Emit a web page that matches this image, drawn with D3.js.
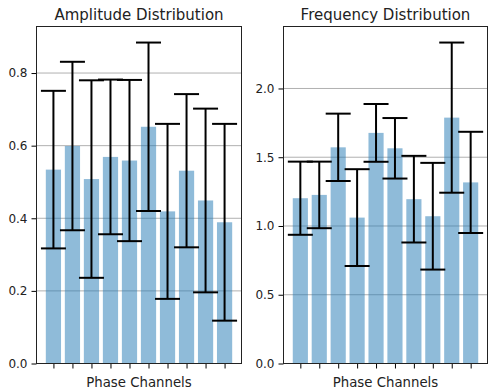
<!DOCTYPE html>
<html>
<head>
<meta charset="utf-8">
<script src="https://cdn.jsdelivr.net/npm/d3@7"></script>
<style>
  body { margin: 0; background: #fff; }
  svg { display: block; font-family: 'DejaVu Sans', sans-serif; }
</style>
</head>
<body>
<svg id="chart" width="488" height="391"></svg>
<script>
const channels = d3.range(10)

const ampMean = [0.534, 0.599, 0.508, 0.569, 0.559, 0.652, 0.419, 0.531, 0.449, 0.389]
const ampErr = [0.217, 0.232, 0.272, 0.213, 0.222, 0.232, 0.241, 0.211, 0.253, 0.271]
const ampTicks = [0.0, 0.2, 0.4, 0.6, 0.8]

const freqMean = [1.202, 1.226, 1.572, 1.061, 1.677, 1.565, 1.195, 1.071, 1.788, 1.317]
const freqErr = [0.266, 0.242, 0.245, 0.352, 0.21, 0.22, 0.315, 0.388, 0.546, 0.368]
const freqTicks = [0.0, 0.5, 1.0, 1.5, 2.0]

const svg = d3.select('#chart')
const barColor = '#1f77b4'

// matplotlib-ish: bars 0.8 wide, 5% x margin, y from 0 to max + 5%
const drawPanel = (box, title, means, errs, ticks) => {
  const { left, right, top, bottom } = box
  const g = svg.append('g')
  const yMax = d3.max(means, (d, i) => d + errs[i]) * 1.05
  const x = d3.scaleLinear().domain([-0.89, 9.89]).range([left, right])
  const y = d3.scaleLinear().domain([0, yMax]).range([bottom, top])
  const bw = x(0.8) - x(0)

  // grid
  g.append('g')
    .selectAll('line')
    .data(ticks)
    .join('line')
    .attr('x1', left)
    .attr('x2', right)
    .attr('y1', (d) => y(d))
    .attr('y2', (d) => y(d))
    .attr('stroke', '#b0b0b0')
    .attr('stroke-width', 1)

  g.append('g')
    .selectAll('rect')
    .data(means)
    .join('rect')
    .attr('x', (d, i) => x(channels[i]) - bw / 2)
    .attr('width', bw)
    .attr('y', (d) => y(d))
    .attr('height', (d) => y(0) - y(d))
    .attr('fill', barColor)
    .attr('fill-opacity', 0.5)

  const err = g.append('g').attr('stroke', '#000').attr('stroke-width', 2)
  means.forEach((m, i) => {
    const cx = x(channels[i])
    err.append('line').attr('x1', cx).attr('x2', cx).attr('y1', y(m - errs[i])).attr('y2', y(m + errs[i]))
    ;[m - errs[i], m + errs[i]].forEach((v) => {
      err.append('line').attr('x1', cx - 12.5).attr('x2', cx + 12.5).attr('y1', y(v)).attr('y2', y(v))
    })
  })

  // axes
  const yAxis = d3.axisLeft(y).tickValues(ticks).tickFormat(d3.format('.1f')).tickSize(5).tickPadding(4)
  const ya = g.append('g').attr('transform', `translate(${left},0)`).call(yAxis)
  ya.select('.domain').remove()
  ya.selectAll('text').attr('font-size', 12).attr('fill', '#222').attr('font-family', 'DejaVu Sans')

  const xAxis = d3.axisBottom(x).tickValues(channels).tickFormat('').tickSize(5)
  const xa = g.append('g').attr('transform', `translate(0,${bottom})`).call(xAxis)
  xa.select('.domain').remove()

  g.append('rect')
    .attr('x', left)
    .attr('y', top)
    .attr('width', right - left)
    .attr('height', bottom - top)
    .attr('fill', 'none')
    .attr('stroke', '#222')
    .attr('stroke-width', 1)

  g.append('text')
    .attr('x', (left + right) / 2)
    .attr('y', top - 7)
    .attr('text-anchor', 'middle')
    .attr('font-size', 15)
    .attr('fill', '#222')
    .text(title)

  g.append('text')
    .attr('x', (left + right) / 2)
    .attr('y', bottom + 23)
    .attr('text-anchor', 'middle')
    .attr('font-size', 13.3)
    .attr('fill', '#222')
    .text('Phase Channels')
}

drawPanel({ left: 36.5, right: 241.5, top: 26.5, bottom: 363.5 }, 'Amplitude Distribution', ampMean, ampErr, ampTicks)
drawPanel({ left: 283.5, right: 487.5, top: 26.5, bottom: 363.5 }, 'Frequency Distribution', freqMean, freqErr, freqTicks)
</script>
</body>
</html>
